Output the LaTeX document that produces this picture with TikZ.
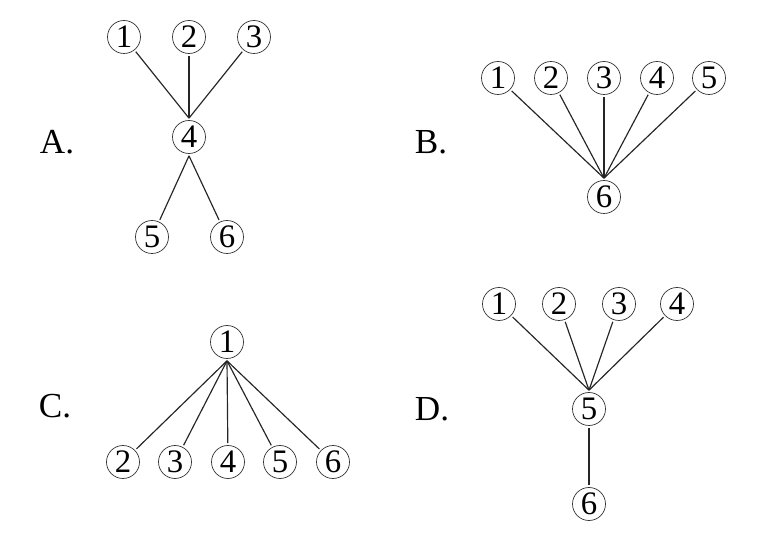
\documentclass[tikz,border=0pt]{standalone}
\usepackage{fontspec}
\setmainfont{Liberation Serif}
\usetikzlibrary{positioning}

\begin{document}
\begin{tikzpicture}[
 num/.style={circle,draw=black!80,line width=0.6pt,minimum size=9.9mm,inner sep=0pt,outer sep=2pt,font=\fontsize{28}{32}\selectfont},
 link/.style={line width=1pt,black!85},
 tag/.style={font=\fontsize{30}{34}\selectfont}]
\useasboundingbox (0,0) rectangle (23.04,16.14);
% A
\node[tag] (labA) at (1.71,11.88) {A.};
\foreach \n/\x/\y in {1/3.72/15.03,2/5.67/15.03,3/7.62/15.03,4/5.67/12.03,5/4.56/9.03,6/6.81/9.03}
 \node[num] (a\n) at (\x,\y) {\n};
\foreach \n in {1,2,3} \draw[link] (a\n) -- (a4.north);
\foreach \n in {5,6} \draw[link] (a4.south) -- (a\n);
% B
\node[tag] (labB) at (12.93,11.88) {B.};
\foreach \n/\x in {1/14.94,2/16.53,3/18.12,4/19.71,5/21.27}
 \node[num] (b\n) at (\x,13.80) {\n};
\node[num] (b6) at (18.12,10.23) {6};
\foreach \n in {1,...,5} \draw[link] (b\n) -- (b6.north);
% C
\node[tag] (labC) at (1.65,3.96) {C.};
\node[num] (c1) at (6.81,5.88) {1};
\foreach \n/\x in {2/3.69,3/5.25,4/6.84,5/8.40,6/9.99}
 \node[num] (c\n) at (\x,2.28) {\n};
\foreach \n in {2,...,6} \draw[link] (c1.south) -- (c\n);
% D
\node[tag] (labD) at (12.96,3.87) {D.};
\foreach \n/\x in {1/14.97,2/16.77,3/18.57,4/20.31}
 \node[num] (d\n) at (\x,7.02) {\n};
\node[num] (d5) at (17.67,3.87) {5};
\node[num] (d6) at (17.67,1.02) {6};
\foreach \n in {1,...,4} \draw[link] (d\n) -- (d5.north);
\draw[link] (d5) -- (d6);
\end{tikzpicture}
\end{document}
